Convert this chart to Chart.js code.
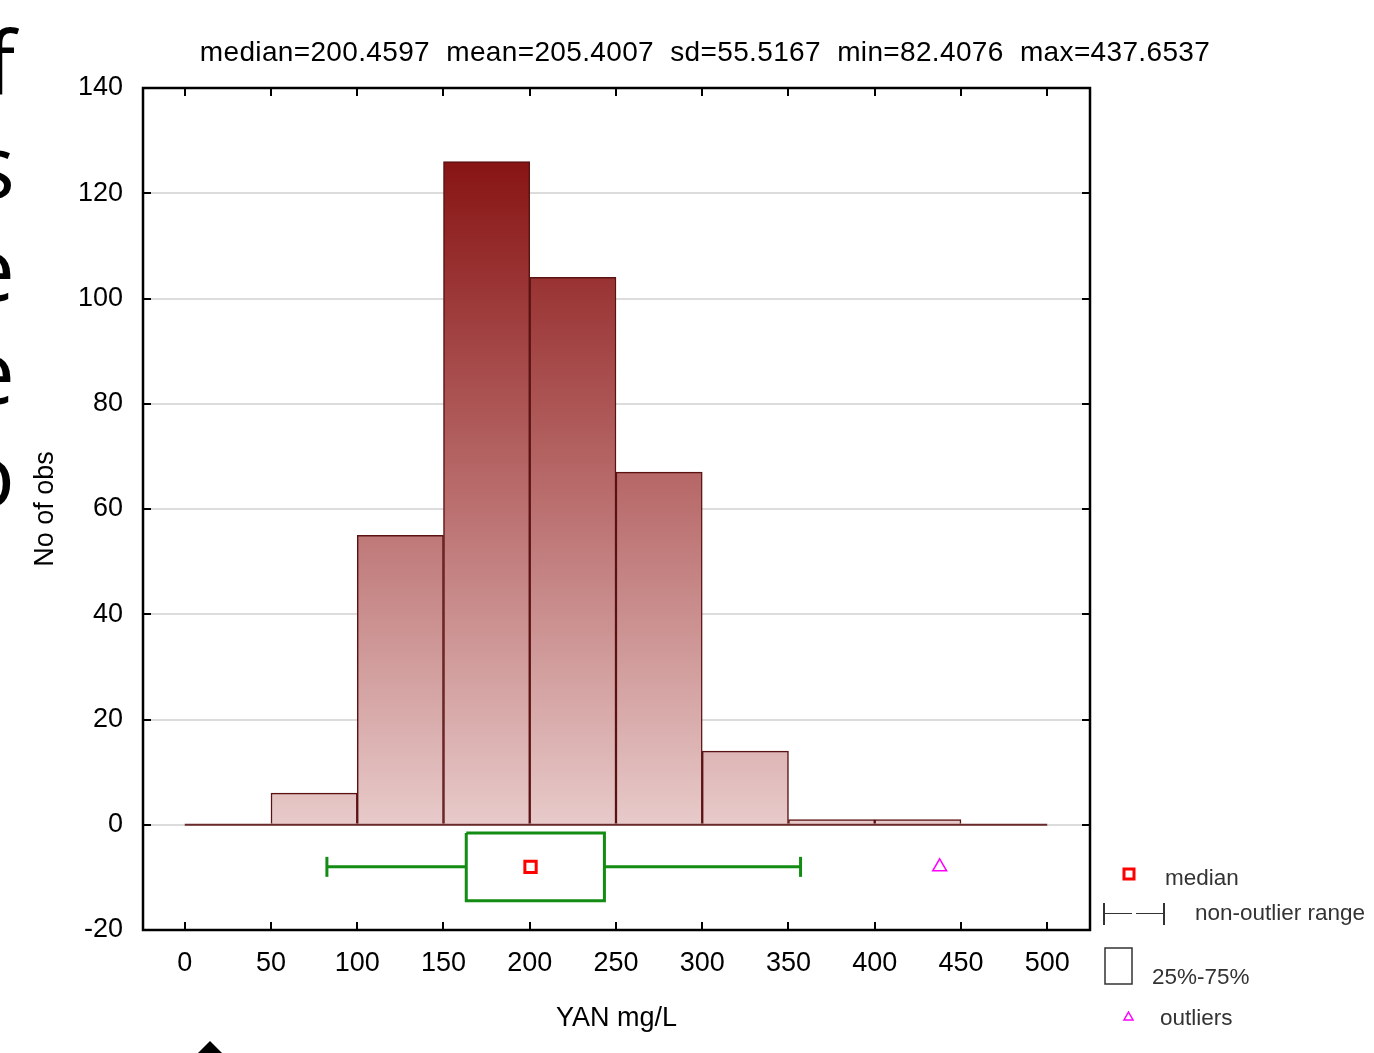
<!DOCTYPE html>
<html>
<head>
<meta charset="utf-8">
<script src="https://cdn.jsdelivr.net/npm/chart.js@4/dist/chart.umd.min.js"></script>
<style>
    html, body { margin: 0; padding: 0; background: #fff; }
    body { width: 1374px; height: 1053px; overflow: hidden; position: relative; font-family: "Liberation Sans", Arial, sans-serif; }
    #wrap { position: absolute; left: 0; top: 0; width: 1374px; height: 1053px; }
    .abs { position: absolute; white-space: pre; }
    #stats { left: 0; top: 35px; width: 1410px; text-align: center; font-size: 28px; letter-spacing: 0.35px; line-height: 34px; color: #000; }
    .slide { right: 1359px; font-family: "Open Sans", sans-serif; font-size: 88px; line-height: 103px; color: #000; text-align: right; }
    .lg { font-size: 22.5px; line-height: 26px; color: #333; }
    .arrow { left: 164px; top: 1041px; width: 0; height: 0; border-left: 46px solid transparent; border-right: 46px solid transparent; border-bottom: 46px solid #000; }
</style>
</head>
<body>
<div id="wrap"><canvas id="histo" width="1374" height="1053"></canvas></div>

<!-- bits of the slide around the chart -->
<div class="abs slide" style="top:10px">of
is
the
are
to</div>
<div class="abs arrow"></div>

<div id="stats" class="abs">median=200.4597  mean=205.4007  sd=55.5167  min=82.4076  max=437.6537</div>

<!-- legend -->
<svg class="abs" style="left:1100px;top:860px" width="70" height="170" viewBox="1100 860 70 170">
    <rect x="1124" y="869" width="10" height="10" fill="none" stroke="#f00" stroke-width="3"/>
    <g stroke="#333" fill="none">
        <line x1="1104" y1="903" x2="1104" y2="925" stroke-width="2"/>
        <line x1="1105" y1="913.5" x2="1132" y2="913.5" stroke-width="1"/>
        <line x1="1136" y1="913.5" x2="1163" y2="913.5" stroke-width="1"/>
        <line x1="1164" y1="903" x2="1164" y2="925" stroke-width="2"/>
        <rect x="1105" y="948" width="27" height="36" stroke-width="1.5"/>
    </g>
    <polygon points="1128.5,1012 1133,1020 1124,1020" fill="none" stroke="#f0f" stroke-width="1.5"/>
</svg>
<div class="abs lg" style="left:1165px;top:865px">median</div>
<div class="abs lg" style="left:1195px;top:900px">non-outlier range</div>
<div class="abs lg" style="left:1152px;top:964px">25%-75%</div>
<div class="abs lg" style="left:1160px;top:1005px">outliers</div>

<script>
    // ---- data ----
    const binCenters = [25, 75, 125, 175, 225, 275, 325, 375, 425, 475];
    const binCounts = [0, 6, 55, 126, 104, 67, 14, 1, 1, 0];
    const xTicks = [0, 50, 100, 150, 200, 250, 300, 350, 400, 450, 500];
    const yTicks = [-20, 0, 20, 40, 60, 80, 100, 120, 140];
    const histRange = [0, 500];
    const quartiles = [163.2, 243.3];      // 25% - 75%
    const whiskerEnds = [82.4076, 357.0];  // non-outlier range
    const medianValue = [200.4597];
    const outlierValues = [437.6537];

    // where the box plot sits under the histogram (y units)
    const BOX_Y = -8;
    const BOX_HALF = 6.45;
    const GREEN = '#138c13';

    function pts(xs, y) { return xs.map(function (x) { return { x: x, y: y }; }); }

    // gradient tied to the y scale, same for every bar
    function barFill(ctx) {
        const chart = ctx.chart;
        if (!chart.chartArea) return '#b86a6a';
        const y = chart.scales.y;
        const g = chart.ctx.createLinearGradient(0, y.getPixelForValue(126), 0, y.getPixelForValue(0));
        g.addColorStop(0, '#881414');
        g.addColorStop(0.5, '#b96c6c');
        g.addColorStop(1, '#e8caca');
        return g;
    }

    // black frame + inward ticks on all four sides
    const framePlugin = {
        id: 'frame',
        afterDraw(chart) {
            const { ctx, chartArea: a, scales } = chart;
            ctx.save();
            ctx.strokeStyle = '#000';
            ctx.lineWidth = 2;
            ctx.beginPath();
            scales.x.ticks.forEach(function (t) {
                const px = Math.round(scales.x.getPixelForValue(t.value));
                ctx.moveTo(px, a.bottom); ctx.lineTo(px, a.bottom - 8);
                ctx.moveTo(px, a.top); ctx.lineTo(px, a.top + 8);
            });
            scales.y.ticks.forEach(function (t) {
                const py = Math.round(scales.y.getPixelForValue(t.value));
                ctx.moveTo(a.left, py); ctx.lineTo(a.left + 8, py);
                ctx.moveTo(a.right, py); ctx.lineTo(a.right - 8, py);
            });
            ctx.stroke();
            ctx.lineWidth = 2.5;
            ctx.strokeRect(a.left, a.top, a.right - a.left, a.bottom - a.top);
            ctx.restore();
        }
    };

    const boxTop = BOX_Y + BOX_HALF, boxBot = BOX_Y - BOX_HALF;

    new Chart(document.getElementById('histo').getContext('2d'), {
        type: 'bar',
        data: {
            datasets: [
                {
                    type: 'scatter',
                    data: pts(medianValue, BOX_Y),
                    pointStyle: 'rect',
                    pointRadius: 8,
                    borderColor: '#ff0000',
                    backgroundColor: '#ffffff',
                    borderWidth: 3
                },
                {
                    type: 'scatter',
                    data: pts(outlierValues, BOX_Y),
                    pointStyle: 'triangle',
                    pointRadius: 8,
                    borderColor: '#ff00ff',
                    backgroundColor: 'rgba(0,0,0,0)',
                    borderWidth: 1.5
                },
                {
                    type: 'scatter',
                    data: pts(whiskerEnds, BOX_Y),
                    pointStyle: 'line',
                    rotation: 90,
                    pointRadius: 10,
                    borderColor: GREEN,
                    borderWidth: 3
                },
                {
                    type: 'line',
                    data: [
                        { x: quartiles[0], y: boxTop }, { x: quartiles[1], y: boxTop },
                        { x: quartiles[1], y: boxBot }, { x: quartiles[0], y: boxBot },
                        { x: quartiles[0], y: boxTop }
                    ],
                    borderColor: GREEN,
                    borderWidth: 3,
                    pointRadius: 0,
                    tension: 0
                },
                {
                    type: 'line',
                    data: [{ x: whiskerEnds[0], y: BOX_Y }, { x: quartiles[0], y: BOX_Y }],
                    borderColor: GREEN,
                    borderWidth: 3,
                    pointRadius: 0
                },
                {
                    type: 'line',
                    data: [{ x: quartiles[1], y: BOX_Y }, { x: whiskerEnds[1], y: BOX_Y }],
                    borderColor: GREEN,
                    borderWidth: 3,
                    pointRadius: 0
                },
                {
                    // histogram baseline, visible where the bins are empty
                    type: 'line',
                    data: pts(histRange, 0),
                    borderColor: '#6b2a2a',
                    borderWidth: 2,
                    pointRadius: 0
                },
                {
                    type: 'bar',
                    data: binCenters.map(function (c, i) { return { x: c, y: binCounts[i] }; }),
                    backgroundColor: barFill,
                    borderColor: '#5a1212',
                    borderWidth: 1.5,
                    borderSkipped: 'bottom',
                    barPercentage: 1,
                    categoryPercentage: 1
                }
            ]
        },
        options: {
            responsive: false,
            devicePixelRatio: 1,
            animation: false,
            layout: { padding: { top: 88, right: 284, left: 0, bottom: 0 } },
            plugins: {
                legend: { display: false },
                tooltip: { enabled: false },
                title: { display: false }
            },
            scales: {
                x: {
                    type: 'linear',
                    offset: false,
                    min: -24.2,
                    max: 524.8,
                    afterFit: function (s) { s.height = 123; },
                    afterBuildTicks: function (s) { s.ticks = xTicks.map(function (v) { return { value: v }; }); },
                    grid: { display: false },
                    border: { display: false },
                    ticks: {
                        color: '#000',
                        padding: 9,
                        maxRotation: 0,
                        font: { family: '"Liberation Sans", Arial, sans-serif', size: 27 }
                    },
                    title: {
                        display: true,
                        text: 'YAN mg/L',
                        color: '#000',
                        padding: { top: 0, bottom: 18 },
                        font: { family: '"Liberation Sans", Arial, sans-serif', size: 27 }
                    }
                },
                y: {
                    min: -20,
                    max: 140,
                    afterFit: function (s) { s.width = 143; },
                    afterBuildTicks: function (s) { s.ticks = yTicks.map(function (v) { return { value: v }; }); },
                    grid: { color: '#dcdcdc', lineWidth: 2, drawTicks: false },
                    border: { display: false },
                    ticks: {
                        color: '#000',
                        padding: 20,
                        font: { family: '"Liberation Sans", Arial, sans-serif', size: 27 }
                    },
                    title: {
                        display: true,
                        text: 'No of obs',
                        color: '#000',
                        padding: { top: 29, bottom: 0 },
                        font: { family: '"Liberation Sans", Arial, sans-serif', size: 27 }
                    }
                }
            }
        },
        plugins: [framePlugin]
    });
</script>
</body>
</html>
